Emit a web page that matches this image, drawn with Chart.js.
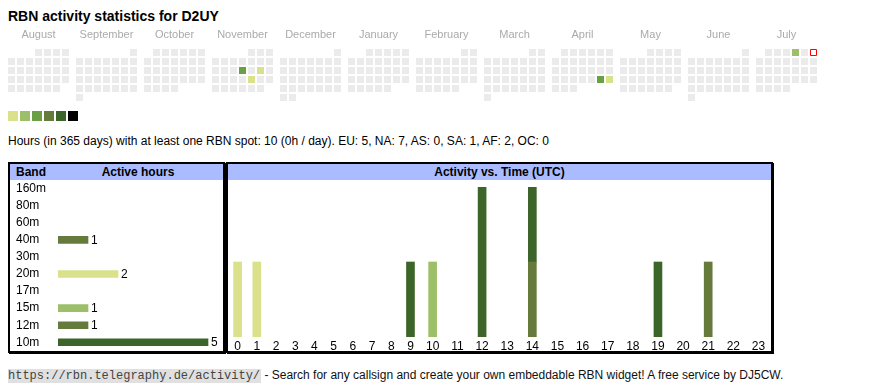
<!DOCTYPE html>
<html>
<head>
<meta charset="utf-8">
<script src="https://cdn.jsdelivr.net/npm/chart.js@4"></script>
<style>
  body { margin: 0; width: 870px; height: 390px; position: relative; background: #fff;
         font-family: "Liberation Sans", Arial, sans-serif; color: #000; overflow: hidden; }
  #title { position: absolute; left: 8px; top: 8px; font-size: 14px; line-height: 16px; font-weight: bold; }
  #heatmap { position: absolute; left: 7px; top: 28px; }
  #legend { position: absolute; left: 8px; top: 111px; height: 10px; }
  #legend span { display: inline-block; width: 10px; height: 10px; margin-right: 2px; vertical-align: top; }
  #summary { position: absolute; left: 8px; top: 134px; font-size: 12px; line-height: 14px; white-space: nowrap; }
  .box { position: absolute; top: 162px; height: 191px; box-sizing: border-box;
         border: 2px solid #000; box-shadow: 1px 1px 0 #000; }
  #bandBox { left: 8px; width: 217px; }
  #timeBox { left: 226px; width: 547px; }
  .head { position: absolute; left: 0; right: 0; top: 0; height: 16px; background: #aabbff;
          font-size: 12px; line-height: 16px; font-weight: bold; }
  .box canvas { position: absolute; }
  #footer { position: absolute; left: 8px; top: 367px; font-size: 12px; line-height: 16px; white-space: nowrap; color: #111; }
  #footer .url { font-family: "Liberation Mono", "Courier New", monospace; font-size: 12px;
                 background: #e0e0e0; color: #444; padding: 0 1px 0 0; }
</style>
</head>
<body>
<div id="title">RBN activity statistics for D2UY</div>
<canvas id="heatmap" width="819" height="74"></canvas>
<div id="legend"></div>
<div id="summary"></div>

<div class="box" id="bandBox">
  <div class="head">
    <span style="position:absolute;left:6px;">Band</span>
    <span style="position:absolute;left:58px;width:140px;text-align:center;">Active hours</span>
  </div>
  <!-- taller than the rows: the y axis keeps half a label height free at both ends -->
  <canvas id="bandChart" width="207" height="185" style="left:6px;top:9px;"></canvas>
</div>

<div class="box" id="timeBox">
  <div class="head" style="text-align:center;">Activity vs. Time (UTC)</div>
  <canvas id="timeChart" width="543" height="171" style="left:0;top:16px;"></canvas>
</div>

<div id="footer"><span class="url">https://rbn.telegraphy.de/activity/</span> - Search for any callsign and create your own embeddable RBN widget! A free service by DJ5CW.</div>

<script>
// ---- data ----
const monthLabels = ["August", "September", "October", "November", "December", "January",
                     "February", "March", "April", "May", "June", "July"];
const activeDays = ["2024-11-14", "2024-11-16", "2024-11-22", "2025-04-26", "2025-04-27", "2025-07-04"];
const activeDayHours = [3, 1, 1, 3, 1, 2];
const today = "2025-07-06";

const palette = ["#d9e18b", "#9dbf69", "#6a9f46", "#667a3b", "#3c6529", "#000000"];

const continents = ["EU", "NA", "AS", "SA", "AF", "OC"];
const continentHours = [5, 7, 0, 1, 2, 0];
const totalHours = 10;

const bands = ["160m", "80m", "60m", "40m", "30m", "20m", "17m", "15m", "12m", "10m"];
const bandHours = [0, 0, 0, 1, 0, 2, 0, 1, 1, 5];
const bandColors = ["#000000", "#3c6529", "#667a3b", "#667a3b", "#6a9f46",
                    "#d9e18b", "#9dbf69", "#9dbf69", "#667a3b", "#3c6529"];

const hourLabels = ["0", "1", "2", "3", "4", "5", "6", "7", "8", "9", "10", "11",
                    "12", "13", "14", "15", "16", "17", "18", "19", "20", "21", "22", "23"];
const hours40m = [0,0,0,0,0,0,0,0,0,0,0,0,0,0,0,0,0,0,0,0,0,1,0,0];
const hours20m = [1,1,0,0,0,0,0,0,0,0,0,0,0,0,0,0,0,0,0,0,0,0,0,0];
const hours15m = [0,0,0,0,0,0,0,0,0,0,1,0,0,0,0,0,0,0,0,0,0,0,0,0];
const hours12m = [0,0,0,0,0,0,0,0,0,0,0,0,0,0,1,0,0,0,0,0,0,0,0,0];
const hours10m = [0,0,0,0,0,0,0,0,0,1,0,0,2,0,1,0,0,0,0,1,0,0,0,0];

// ---- page text ----
const FONT = '"Liberation Sans", Arial, sans-serif';
Chart.defaults.font.family = FONT;
Chart.defaults.font.size = 12;
Chart.defaults.color = "#000";
Chart.defaults.animation = false;

document.getElementById("legend").innerHTML =
    palette.map(c => `<span style="background:${c}"></span>`).join("");
document.getElementById("summary").textContent =
    `Hours (in 365 days) with at least one RBN spot: ${totalHours} (0h / day). ` +
    continents.map((c, i) => `${c}: ${continentHours[i]}`).join(", ");

// ---- calendar heatmap ----
const MONTH_GAP = 5 / 9;   // space between month blocks, in cells
const pad = n => String(n).padStart(2, "0");
const emptyCells = [], activeCells = [], todayCells = [];
monthLabels.forEach((name, m) => {
    const first = new Date(2024, 7 + m, 1);
    const yr = first.getFullYear(), mo = first.getMonth();
    const lead = (first.getDay() + 6) % 7;
    const days = new Date(yr, mo + 1, 0).getDate();
    for (let d = 1; d <= days; d++) {
        const i = lead + d - 1;
        const key = `${yr}-${pad(mo + 1)}-${pad(d)}`;
        const cell = { x: m * (7 + MONTH_GAP) + (i % 7), y: Math.floor(i / 7) };
        const k = activeDays.indexOf(key);
        if (key === today) todayCells.push(cell);
        else if (k >= 0) activeCells.push({ ...cell, h: activeDayHours[k] });
        else emptyCells.push(cell);
    }
});
const monthCenters = monthLabels.map((n, m) => m * (7 + MONTH_GAP) + 3);
const CELL_R = 7 / Math.SQRT2;

new Chart(document.getElementById("heatmap"), {
    type: "scatter",
    data: {
        datasets: [
            { data: emptyCells, pointStyle: "rect", pointRadius: CELL_R, pointBorderWidth: 0,
              pointBackgroundColor: "#ebebeb", clip: false },
            { data: activeCells, pointStyle: "rect", pointRadius: CELL_R, pointBorderWidth: 0,
              pointBackgroundColor: c => palette[Math.min(c.raw.h, 6) - 1], clip: false },
            { data: todayCells, pointStyle: "rect", pointRadius: 6 / Math.SQRT2, pointBorderWidth: 1,
              pointBorderColor: "#ff0000", pointBackgroundColor: "#ffffff", clip: false },
        ],
    },
    options: {
        responsive: false,
        events: [],
        layout: { autoPadding: false, padding: 0 },
        plugins: { legend: { display: false }, tooltip: { enabled: false } },
        scales: {
            x: {
                type: "linear", position: "top", min: -0.5, max: 90.5,
                afterBuildTicks: s => { s.ticks = monthCenters.map(v => ({ value: v })); },
                afterFit: s => { s.height = 20; },
                ticks: { callback: (v, i) => monthLabels[i], autoSkip: false, maxRotation: 0,
                         padding: 6, color: "#aaaaaa", font: { size: 11 } },
                grid: { display: false, drawTicks: false },
                border: { display: false },
            },
            y: { type: "linear", reverse: true, min: -0.5, max: 5.5, display: false },
        },
    },
});

// ---- active hours per band ----
const barValueLabels = {
    id: "barValueLabels",
    afterDatasetsDraw(chart) {
        const { ctx } = chart;
        const meta = chart.getDatasetMeta(0);
        ctx.save();
        ctx.font = "12px " + FONT;
        ctx.fillStyle = "#000";
        ctx.textBaseline = "middle";
        meta.data.forEach((bar, i) => {
            if (bandHours[i] > 0) ctx.fillText(String(bandHours[i]), bar.x + 3, bar.y + 0.5);
        });
        ctx.restore();
    },
};

new Chart(document.getElementById("bandChart"), {
    type: "bar",
    data: {
        labels: bands,
        datasets: [{ data: bandHours.map(v => v || null), backgroundColor: bandColors,
                     barThickness: 7, borderWidth: 0 }],
    },
    options: {
        indexAxis: "y",
        responsive: false,
        events: [],
        layout: { autoPadding: false, padding: 0 },
        plugins: { legend: { display: false }, tooltip: { enabled: false } },
        scales: {
            x: { min: 0, max: 5.5, display: false },
            y: {
                afterFit: s => { s.width = 42; },
                ticks: { crossAlign: "far", padding: 0, autoSkip: false, color: "#000" },
                grid: { display: false, drawTicks: false },
                border: { display: false },
            },
        },
    },
    plugins: [barValueLabels],
});

// ---- activity vs. time (table-like columns, width follows label width) ----
const measure = document.createElement("canvas").getContext("2d");
measure.font = "12px " + FONT;
const colWidths = hourLabels.map(l => measure.measureText(l).width + 15);
const colCenters = [];
colWidths.reduce((acc, w) => { colCenters.push(acc + w / 2); return acc + w; }, 0);
const tableWidth = colWidths.reduce((a, b) => a + b, 0);

const hourSeries = [
    { band: "40m", values: hours40m },
    { band: "20m", values: hours20m },
    { band: "15m", values: hours15m },
    { band: "12m", values: hours12m },
    { band: "10m", values: hours10m },
];
const stackMax = Math.max(...hourLabels.map((l, h) => hourSeries.reduce((s, d) => s + d.values[h], 0)));

new Chart(document.getElementById("timeChart"), {
    type: "bar",
    data: {
        datasets: hourSeries.map(s => ({
            label: s.band,
            data: s.values.map((v, h) => ({ x: colCenters[h], y: v })).filter(p => p.y > 0),
            backgroundColor: bandColors[bands.indexOf(s.band)],
            barThickness: 8,
            borderWidth: 0,
        })),
    },
    options: {
        responsive: false,
        events: [],
        layout: { autoPadding: false, padding: { top: 7 } },
        plugins: { legend: { display: false }, tooltip: { enabled: false } },
        scales: {
            x: {
                type: "linear", stacked: true, offset: false, min: 0, max: tableWidth,
                afterBuildTicks: s => { s.ticks = colCenters.map(v => ({ value: v })); },
                afterFit: s => { s.height = 14; },
                ticks: { callback: (v, i) => hourLabels[i], autoSkip: false, maxRotation: 0,
                         padding: 2, color: "#000" },
                grid: { display: false, drawTicks: false },
                border: { display: false },
            },
            y: { stacked: true, min: 0, max: stackMax, display: false },
        },
    },
});
</script>
</body>
</html>
